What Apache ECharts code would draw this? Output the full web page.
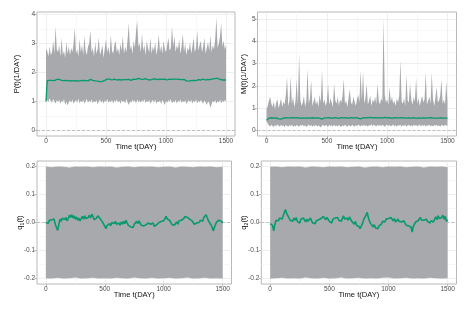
<!DOCTYPE html>
<html><head><meta charset="utf-8">
<script src="https://cdn.jsdelivr.net/npm/echarts@6/dist/echarts.min.js"></script>
<style>html,body{margin:0;padding:0;background:#fff}#c{width:468px;height:312px}</style>
</head><body><div id="c"></div>
<script>
// ---- time axes ----
const days = [0,10,20,30,40,50,60,70,80,90,100,110,120,130,140,150,160,170,180,190,200,210,220,230,240,250,260,270,280,290,300,310,320,330,340,350,360,370,380,390,400,410,420,430,440,450,460,470,480,490,500,510,520,530,540,550,560,570,580,590,600,610,620,630,640,650,660,670,680,690,700,710,720,730,740,750,760,770,780,790,800,810,820,830,840,850,860,870,880,890,900,910,920,930,940,950,960,970,980,990,1000,1010,1020,1030,1040,1050,1060,1070,1080,1090,1100,1110,1120,1130,1140,1150,1160,1170,1180,1190,1200,1210,1220,1230,1240,1250,1260,1270,1280,1290,1300,1310,1320,1330,1340,1350,1360,1370,1380,1390,1400,1410,1420,1430,1440,1450,1460,1470,1480,1490,1500];
const qDays = [0,50,100,150,200,250,300,350,400,450,500,550,600,650,700,750,800,850,900,950,1000,1050,1100,1150,1200,1250,1300,1350,1400,1450,1500];

// ---- tick labels ----
const xTicks = [0,500,1000,1500];
const xMinor = [250,750,1250];
const pTicks = [0,1,2,3,4];
const pMinor = [0.5,1.5,2.5,3.5];
const mTicks = [0,1,2,3,4,5];
const mMinor = [0.5,1.5,2.5,3.5,4.5];
const qTicks = [-0.2,-0.1,0,0.1,0.2];
const qMinor = [-0.15,-0.05,0.05,0.15];

// ---- P(t) ----
const pMean = [1.00,1.72,1.74,1.73,1.75,1.73,1.74,1.72,1.75,1.76,
1.79,1.76,1.74,1.73,1.75,1.72,1.71,1.73,1.70,1.71,
1.70,1.72,1.69,1.71,1.70,1.72,1.71,1.70,1.73,1.72,
1.71,1.73,1.74,1.72,1.73,1.71,1.74,1.76,1.74,1.73,
1.72,1.71,1.73,1.70,1.69,1.68,1.70,1.69,1.71,1.73,
1.76,1.77,1.75,1.77,1.76,1.74,1.75,1.77,1.76,1.74,
1.73,1.75,1.76,1.74,1.73,1.75,1.77,1.75,1.74,1.76,
1.75,1.73,1.76,1.77,1.78,1.76,1.79,1.80,1.78,1.77,
1.78,1.76,1.77,1.79,1.77,1.75,1.76,1.74,1.75,1.77,
1.76,1.78,1.77,1.75,1.76,1.77,1.75,1.76,1.78,1.77,
1.76,1.74,1.75,1.77,1.78,1.76,1.75,1.77,1.79,1.77,
1.75,1.76,1.74,1.75,1.77,1.76,1.73,1.71,1.72,1.70,
1.71,1.72,1.70,1.73,1.74,1.72,1.74,1.75,1.76,1.74,
1.75,1.77,1.76,1.74,1.75,1.76,1.77,1.75,1.76,1.78,
1.77,1.79,1.83,1.80,1.78,1.76,1.75,1.74,1.73,1.74,
1.74];
const pUpper = [2.80,2.75,2.55,2.90,2.60,2.70,3.10,2.65,3.60,2.80,
2.70,2.95,2.55,3.20,2.60,2.75,2.50,3.05,2.65,2.90,
2.60,2.85,2.70,3.00,3.55,2.65,2.80,2.55,3.15,2.70,
2.95,2.60,3.25,2.75,2.60,2.90,3.00,3.45,2.70,2.85,
2.55,3.05,2.65,2.80,3.20,2.60,2.75,2.95,2.50,2.85,
3.15,2.70,2.90,2.60,3.30,2.75,2.65,2.95,3.10,2.70,
2.85,2.60,3.00,2.75,3.25,2.65,2.90,2.70,3.15,3.70,
2.80,2.95,2.65,3.10,2.85,3.40,3.80,2.90,3.00,2.70,
3.35,2.75,2.95,2.60,3.10,2.85,2.70,3.20,2.65,2.90,
2.75,3.05,2.60,2.85,3.30,2.70,2.95,2.65,3.10,2.80,
2.70,2.95,3.20,2.75,2.85,3.60,2.90,3.25,2.70,2.95,
2.80,3.15,2.65,2.90,3.35,2.70,3.00,2.60,2.85,2.75,
3.05,2.65,2.90,3.20,2.70,2.85,3.45,2.75,2.95,3.10,
2.70,2.90,3.20,2.65,2.85,3.05,2.75,3.30,2.70,2.95,
2.80,3.15,3.90,2.85,3.00,3.25,3.70,2.90,3.10,2.80,
2.95];
const pLower = [1.00,1.05,0.98,1.10,1.02,0.95,1.08,1.00,0.93,1.05,
0.98,1.06,0.92,1.03,0.97,1.08,0.88,1.00,0.86,0.97,
1.04,0.95,1.07,0.92,1.00,1.05,0.96,1.09,0.94,1.02,
0.97,1.06,0.93,1.01,1.08,0.95,1.03,0.98,1.07,0.94,
1.02,0.96,1.05,0.90,1.00,1.07,0.95,1.03,0.92,1.04,
0.98,1.08,0.95,1.02,0.97,1.06,0.93,1.04,0.99,1.07,
0.96,1.03,0.91,1.05,0.98,1.02,0.94,1.08,0.96,0.88,
1.01,0.95,1.06,0.99,1.04,0.93,1.07,0.97,1.03,0.95,
1.05,0.98,1.08,0.94,1.02,0.97,1.06,0.92,1.00,1.05,
0.96,1.07,0.93,1.01,0.97,1.04,0.90,1.06,0.98,0.87,
1.02,0.95,1.05,0.99,1.08,0.94,1.01,0.97,1.06,0.93,
1.03,0.98,1.07,0.95,1.02,0.96,1.05,0.91,1.00,1.04,
0.97,1.06,0.93,1.02,0.98,1.07,0.94,1.03,0.96,1.05,
0.99,0.92,1.04,0.97,0.88,1.01,0.95,0.78,0.90,1.02,
0.96,1.05,0.93,1.01,0.97,1.06,0.94,1.03,0.98,1.05,
1.00];

// ---- M(t) ----
const mMean = [0.46,0.52,0.55,0.56,0.57,0.56,0.55,0.57,0.56,0.54,
0.52,0.50,0.51,0.53,0.55,0.56,0.57,0.55,0.56,0.57,
0.56,0.55,0.57,0.58,0.56,0.55,0.57,0.56,0.54,0.55,
0.56,0.57,0.55,0.54,0.56,0.57,0.55,0.56,0.57,0.56,
0.55,0.54,0.56,0.57,0.55,0.53,0.51,0.54,0.56,0.57,
0.56,0.55,0.57,0.56,0.54,0.55,0.57,0.58,0.56,0.55,
0.54,0.56,0.57,0.55,0.56,0.58,0.57,0.55,0.54,0.56,
0.57,0.56,0.55,0.57,0.58,0.56,0.55,0.53,0.52,0.54,
0.56,0.57,0.58,0.57,0.56,0.58,0.59,0.57,0.56,0.58,
0.57,0.58,0.56,0.57,0.58,0.56,0.55,0.57,0.59,0.58,
0.56,0.55,0.57,0.56,0.54,0.56,0.57,0.55,0.56,0.57,
0.56,0.58,0.57,0.55,0.56,0.57,0.55,0.54,0.56,0.57,
0.55,0.56,0.57,0.56,0.54,0.55,0.56,0.57,0.55,0.54,
0.56,0.57,0.55,0.54,0.56,0.55,0.57,0.56,0.55,0.54,
0.55,0.56,0.54,0.55,0.57,0.56,0.55,0.54,0.55,0.56,
0.55];
const mUpper = [0.95,1.10,1.35,1.50,1.20,1.05,1.30,0.95,1.25,1.40,
1.00,1.20,1.45,1.05,1.30,1.15,1.60,2.40,1.10,1.35,
2.40,1.20,1.50,1.05,1.30,2.30,1.15,3.45,1.40,1.10,
1.25,1.55,1.05,1.35,2.75,1.20,1.45,2.25,1.10,1.30,
1.50,1.15,1.35,1.05,1.60,1.25,2.70,1.20,1.40,1.10,
1.30,2.10,1.15,1.45,1.25,1.05,2.10,1.35,1.20,1.50,
1.10,1.40,1.25,1.55,2.30,1.20,1.35,1.05,1.45,1.85,
1.25,1.15,1.50,1.30,1.10,1.40,1.60,1.25,2.70,1.35,
2.65,1.20,1.45,2.10,1.15,1.35,1.55,1.10,1.40,1.25,
1.50,1.20,2.10,1.35,1.15,1.45,1.30,5.05,1.60,1.25,
1.40,1.15,1.95,1.30,1.50,1.20,1.35,1.10,1.45,1.25,
1.55,3.15,1.30,1.20,1.45,1.10,2.50,1.35,1.25,2.10,
1.40,1.15,1.50,1.30,2.35,1.20,1.45,1.10,1.35,1.55,
1.25,1.40,2.60,1.15,1.35,1.50,1.20,2.60,1.40,1.10,
1.45,1.95,1.25,1.35,1.55,2.30,1.20,1.40,1.15,2.20,
1.30];
const mLower = [0.42,0.30,0.22,0.18,0.25,0.20,0.15,0.24,0.19,0.27,
0.21,0.16,0.25,0.19,0.23,0.14,0.26,0.20,0.17,0.24,
0.19,0.27,0.15,0.22,0.18,0.25,0.20,0.16,0.24,0.21,
0.26,0.18,0.23,0.15,0.21,0.27,0.19,0.24,0.17,0.22,
0.20,0.25,0.16,0.23,0.19,0.13,0.22,0.26,0.18,0.24,
0.21,0.17,0.25,0.20,0.23,0.16,0.27,0.19,0.22,0.18,
0.24,0.20,0.15,0.23,0.19,0.26,0.21,0.17,0.24,0.20,
0.18,0.25,0.21,0.16,0.23,0.19,0.27,0.22,0.18,0.24,
0.20,0.26,0.19,0.23,0.17,0.24,0.21,0.28,0.19,0.25,
0.22,0.18,0.26,0.20,0.24,0.19,0.25,0.21,0.17,0.23,
0.26,0.20,0.24,0.18,0.22,0.27,0.19,0.23,0.16,0.24,
0.21,0.25,0.18,0.23,0.20,0.26,0.17,0.22,0.25,0.19,
0.23,0.18,0.26,0.21,0.24,0.19,0.22,0.27,0.18,0.24,
0.20,0.25,0.17,0.23,0.21,0.26,0.19,0.22,0.18,0.24,
0.21,0.26,0.19,0.23,0.17,0.24,0.22,0.20,0.25,0.21,
0.23];

// ---- q1(t) ----
const q1Mean = [0.000,0.006,-0.003,0.008,0.002,0.010,0.004,0.012,-0.006,-0.018,
-0.028,-0.008,0.012,0.004,0.016,0.022,0.010,0.018,0.006,0.014,
0.026,0.018,0.028,0.016,0.024,0.012,0.020,0.008,0.016,0.006,
0.014,0.022,0.012,0.024,0.014,0.008,0.018,0.026,0.016,0.030,
0.022,0.010,0.004,0.016,0.024,0.028,0.014,0.020,0.002,-0.006,
-0.014,-0.022,-0.010,-0.016,-0.004,-0.012,0.000,0.006,-0.004,0.004,
-0.006,-0.012,-0.002,-0.010,0.002,-0.006,0.004,-0.004,0.008,-0.002,
-0.010,-0.004,-0.016,-0.010,-0.018,-0.006,-0.002,0.004,-0.004,0.006,
0.000,-0.010,-0.004,-0.012,-0.016,-0.008,-0.014,-0.002,0.004,-0.006,
-0.010,-0.002,-0.014,-0.018,-0.008,-0.012,0.000,-0.006,0.004,0.010,
0.006,0.014,0.022,0.012,0.018,0.008,0.002,-0.008,-0.002,-0.010,
-0.004,0.002,-0.006,0.006,0.000,0.008,0.004,0.014,0.022,0.028,
0.018,0.024,0.012,0.016,0.006,0.002,-0.006,-0.010,-0.002,0.004,
0.000,0.008,0.014,0.004,0.018,0.024,0.028,0.016,0.006,0.000,
-0.008,-0.016,-0.030,-0.018,-0.006,0.002,-0.004,0.008,0.012,0.004,
-0.002];
const q1Upper = [0.200,0.198,0.200,0.199,0.197,0.200,0.199,0.200,0.198,0.200,0.199,0.200,0.197,0.199,0.200,0.198,0.200,0.199,0.200,0.198,0.199,0.200,0.197,0.200,0.199,0.198,0.200,0.199,0.200,0.198,0.199];
const q1Lower = [-0.199,-0.200,-0.198,-0.200,-0.199,-0.197,-0.200,-0.199,-0.198,-0.200,-0.199,-0.200,-0.198,-0.199,-0.200,-0.197,-0.199,-0.200,-0.198,-0.200,-0.199,-0.198,-0.200,-0.199,-0.197,-0.200,-0.199,-0.198,-0.200,-0.199,-0.200];

// ---- q2(t) ----
const q2Mean = [-0.004,0.002,-0.010,-0.030,-0.006,0.008,0.014,0.006,0.016,0.022,
0.012,0.024,0.036,0.046,0.032,0.024,0.016,0.008,0.014,0.004,
0.016,0.008,0.018,0.004,0.010,-0.002,0.012,0.006,0.016,0.010,
0.002,0.012,0.004,0.010,0.016,0.006,-0.002,0.004,-0.004,0.006,
0.002,0.010,0.004,0.014,0.008,0.022,0.016,0.010,0.018,0.012,
0.004,0.010,-0.002,0.012,0.006,0.016,0.010,0.018,0.008,0.012,
0.004,0.014,0.024,0.012,0.006,0.016,0.008,0.020,0.012,0.004,
0.000,-0.006,0.004,-0.010,-0.004,-0.014,-0.022,-0.016,-0.004,0.010,
0.016,0.026,0.036,0.018,0.004,-0.004,-0.010,-0.016,-0.008,-0.020,
-0.014,-0.022,-0.012,-0.018,-0.006,0.004,0.010,0.002,0.012,0.006,
0.014,0.008,0.018,0.012,0.006,0.014,0.002,0.008,0.012,0.004,
0.010,0.002,-0.004,0.006,-0.002,-0.010,-0.004,-0.012,-0.008,-0.016,
-0.034,-0.014,-0.006,0.002,-0.004,0.006,0.012,0.018,0.008,0.002,
0.008,0.002,0.012,0.004,0.010,-0.002,0.006,0.010,0.002,0.012,
0.020,0.010,0.024,0.014,0.008,0.018,0.026,0.012,0.022,0.004,
0.010];
const q2Upper = [0.199,0.200,0.198,0.200,0.199,0.200,0.197,0.200,0.199,0.198,0.200,0.199,0.200,0.198,0.199,0.200,0.197,0.199,0.200,0.198,0.200,0.199,0.200,0.198,0.199,0.200,0.197,0.200,0.199,0.200,0.198];
const q2Lower = [-0.200,-0.199,-0.198,-0.200,-0.199,-0.200,-0.197,-0.199,-0.200,-0.198,-0.200,-0.199,-0.197,-0.200,-0.199,-0.198,-0.200,-0.199,-0.200,-0.198,-0.197,-0.200,-0.199,-0.198,-0.200,-0.199,-0.200,-0.198,-0.199,-0.200,-0.199];

// ---- styling ----
const FONT = 'Liberation Sans, Arial, sans-serif';
const GREEN = '#079a6c';
const RIBBON = '#a7a9ad';
const BORDER = '#b8b8b8';
const zip = (xs, ys) => xs.map((x, i) => [x, ys[i]]);

const panels = [
  {grid:{left:37, top:12, width:198, height:124}, ymin:-0.195, ymax:4.09, yt:pTicks, ym:pMinor,
   name:'P(t)(1/DAY)', gap:14.5, fmt:v=>String(v), t:days, lo:pLower, hi:pUpper, mean:pMean, lw:1.3},
  {grid:{left:257.5, top:12, width:199, height:124}, ymin:-0.25, ymax:5.32, yt:mTicks, ym:mMinor,
   name:'M(t)(1/DAY)', gap:8.5, fmt:v=>String(v), t:days, lo:mLower, hi:mUpper, mean:mMean, lw:1.3},
  {grid:{left:37, top:161, width:194.5, height:123}, ymin:-0.22, ymax:0.22, yt:qTicks, ym:qMinor,
   name:'q{s|1}(t)', gap:12, fmt:v=>v.toFixed(1), t:qDays, lo:q1Lower, hi:q1Upper, mean:q1Mean, lw:1.6},
  {grid:{left:261.3, top:161, width:195.2, height:123}, ymin:-0.22, ymax:0.22, yt:qTicks, ym:qMinor,
   name:'q{s|2}(t)', gap:12, fmt:v=>v.toFixed(1), t:qDays, lo:q2Lower, hi:q2Upper, mean:q2Mean, lw:1.6}
];

const grids = [], xAxes = [], yAxes = [], series = [];
panels.forEach((p, i) => {
  grids.push(Object.assign({show:true, borderColor:BORDER, borderWidth:1, backgroundColor:'#fff', containLabel:false, outerBoundsMode:'none'}, p.grid));
  xAxes.push({
    gridIndex:i, type:'value', min:-75, max:1575,
    axisLine:{show:false, onZero:false},
    axisTick:{show:true, length:2.5, customValues:xTicks, lineStyle:{color:BORDER, width:1}},
    axisLabel:{customValues:xTicks, fontSize:6.5, color:'#4d4d4d', margin:2, fontFamily:FONT, formatter:v=>String(v)},
    splitLine:{show:false}, minorSplitLine:{show:false},
    name:'Time t(DAY)', nameLocation:'middle', nameGap:7, nameMoveOverlap:false,
    nameTextStyle:{fontSize:7.6, color:'#111', fontFamily:FONT}
  });
  yAxes.push({
    gridIndex:i, type:'value', min:p.ymin, max:p.ymax,
    axisLine:{show:false, onZero:false},
    axisTick:{show:true, length:2.5, customValues:p.yt, lineStyle:{color:BORDER, width:1}},
    axisLabel:{customValues:p.yt, fontSize:6.5, color:'#4d4d4d', margin:2, fontFamily:FONT, formatter:p.fmt},
    splitLine:{show:false}, minorSplitLine:{show:false},
    name:p.name, nameLocation:'middle', nameRotate:90, nameGap:p.gap, nameMoveOverlap:false,
    nameTextStyle:{fontSize:7.6, color:'#111', fontFamily:FONT, lineHeight:11,
      rich:{s:{fontSize:5.2, fontFamily:FONT, color:'#111', verticalAlign:'bottom', lineHeight:11}}}
  });
  const maj = {color:'#e4e4e4', width:0.6, type:'solid'};
  const mnr = {color:'#f1f1f1', width:0.5, type:'solid'};
  const lines = [].concat(
    xMinor.map(v => ({xAxis:v, lineStyle:mnr})),
    p.ym.map(v => ({yAxis:v, lineStyle:mnr})),
    xTicks.map(v => ({xAxis:v, lineStyle:maj})),
    p.yt.map(v => ({yAxis:v, lineStyle:maj})),
    [{yAxis:0, lineStyle:{color:'#ababab', width:0.7, type:[3,2]}}]
  );
  // ribbon: polygon through upper then lower bounds, positioned by the axes
  series.push({
    type:'custom', xAxisIndex:i, yAxisIndex:i, coordinateSystem:'cartesian2d',
    data:[[p.t[0], p.lo[0]]], z:10, silent:true, clip:true,
    renderItem:(params, api) => {
      const pts = [];
      for (let j = 0; j < p.t.length; j++) pts.push(api.coord([p.t[j], p.hi[j]]));
      for (let j = p.t.length - 1; j >= 0; j--) pts.push(api.coord([p.t[j], p.lo[j]]));
      return {type:'polygon', shape:{points:pts}, style:{fill:RIBBON, stroke:null}};
    },
    markLine:{silent:true, z:1, symbol:['none','none'], label:{show:false}, animation:false, data:lines}
  });
  series.push({
    type:'line', xAxisIndex:i, yAxisIndex:i, data:zip(days, p.mean), symbol:'none',
    lineStyle:{color:GREEN, width:p.lw}, z:11, silent:true
  });
});

const chart = echarts.init(document.getElementById('c'), null, {renderer:'canvas'});
chart.setOption({animation:false, backgroundColor:'#fff', grid:grids, xAxis:xAxes, yAxis:yAxes, series:series});
</script></body></html>
